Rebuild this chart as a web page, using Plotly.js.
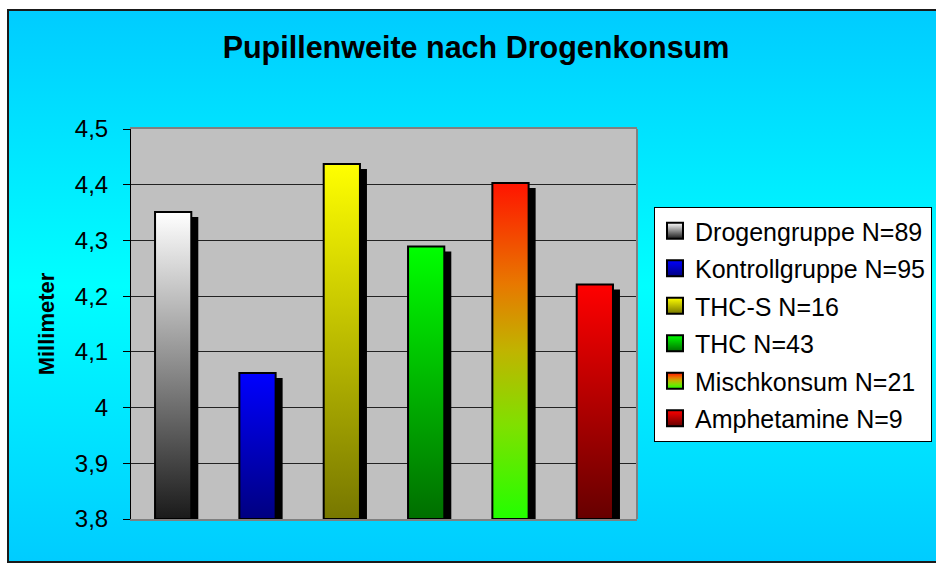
<!DOCTYPE html>
<html><head><meta charset="utf-8">
<script src="https://cdn.plot.ly/plotly-3.0.1.min.js"></script>
<style>
html,body{margin:0;padding:0;background:#fff;width:936px;height:563px;overflow:hidden;}
#bg{position:absolute;left:7px;top:9px;width:940px;height:550px;border:2px solid #1a1a1a;
 background:linear-gradient(to bottom,#00ccff 0%,#00ffff 50%,#00ccff 100%);}
#chart{position:absolute;left:0;top:0;width:936px;height:563px;}
</style></head>
<body>
<div id="bg"></div>
<div id="chart"></div>
<script>
// ---- data ----
const groups = ['Drogengruppe N=89','Kontrollgruppe N=95','THC-S N=16','THC N=43','Mischkonsum N=21','Amphetamine N=9'];
const pupilMM = [4.351, 4.062, 4.437, 4.289, 4.403, 4.221];
const yRange = [3.8, 4.5];
const yTickStep = 0.1;

// ---- styles ----
const gradStops = [
  [[0,'#ffffff'],[1,'#1a1a1a']],
  [[0,'#0000ff'],[1,'#000080']],
  [[0,'#ffff00'],[1,'#777700']],
  [[0,'#00ff00'],[1,'#006e00']],
  [[0,'#ff1400'],[0.3,'#e87800'],[0.5,'#c0b400'],[0.72,'#80e000'],[1,'#22ff00']],
  [[0,'#ff0000'],[1,'#660000']]
];
const baseColors = ['#888888','#0000c0','#c0c000','#00b000','#c0b400','#b00000'];

const traces = groups.map((g,i)=>({
  type:'bar', name:g, x:[g], y:[pupilMM[i] - yRange[0]], base:yRange[0], width:0.43,
  marker:{color:baseColors[i], line:{color:'#000', width:2}},
  legendgroup:'g'+i, hoverinfo:'skip'
}));

const font = 'Arial, "Liberation Sans", sans-serif';
const layout = {
  width:936, height:563,
  paper_bgcolor:'rgba(0,0,0,0)', plot_bgcolor:'#c0c0c0',
  margin:{l:131, r:299, t:129, b:44},
  font:{family:font, color:'#000'},
  separators:',.',
  title:{text:'Pupillenweite nach Drogenkonsum', font:{family:font, size:30.5, weight:'bold', color:'#000'},
         xref:'container', x:476/936, xanchor:'center', yref:'container', y:1-47/563, yanchor:'middle'},
  barmode:'overlay',
  xaxis:{showticklabels:false, ticks:'', showgrid:false, zeroline:false,
         showline:true, linecolor:'#808080', linewidth:2, mirror:true, fixedrange:true},
  yaxis:{range:yRange, tickmode:'linear', tick0:yRange[0], dtick:yTickStep,
         ticks:'outside', ticklen:7, tickcolor:'#000', tickwidth:1,
         showline:true, linecolor:'#000', linewidth:1,
         gridcolor:'#222222', gridwidth:1, zeroline:false,
         tickfont:{size:24, color:'#000'}, ticklabelstandoff:10,
         title:{text:'Millimeter', font:{size:22, weight:'bold', color:'#000'}, standoff:14}},
  shapes:[{type:'line', xref:'paper', yref:'paper', x0:1, x1:1, y0:0, y1:1, line:{color:'#808080', width:2}, layer:'above'}],
  legend:{xref:'container', x:654/936, xanchor:'left', yref:'container', y:1-207/563, yanchor:'top',
          bgcolor:'#ffffff', bordercolor:'#000000', borderwidth:1, font:{size:25, color:'#000'},
          tracegroupgap:2},
  showlegend:true
};

const gd = document.getElementById('chart');
Plotly.newPlot(gd, traces, layout, {staticPlot:true}).then(()=>{
  const NS = 'http://www.w3.org/2000/svg';
  const svg = gd.querySelector('svg.main-svg');
  let defs = svg.querySelector('defs');
  if(!defs){ defs = document.createElementNS(NS,'defs'); svg.insertBefore(defs, svg.firstChild); }
  gradStops.forEach((stops,i)=>{
    const lg = document.createElementNS(NS,'linearGradient');
    lg.setAttribute('id','barGrad'+i);
    lg.setAttribute('x1','0'); lg.setAttribute('y1','0'); lg.setAttribute('x2','0'); lg.setAttribute('y2','1');
    stops.forEach(s=>{
      const st = document.createElementNS(NS,'stop');
      st.setAttribute('offset', s[0]); st.setAttribute('stop-color', s[1]);
      lg.appendChild(st);
    });
    defs.appendChild(lg);
  });
  // bars: gradient fill + drop shadow
  gd.querySelectorAll('g.trace.bars').forEach((tr,i)=>{
    const d = tr.__data__;
    let idx = i;
    if(d && d[0] && d[0].trace) idx = d[0].trace.index;
    tr.querySelectorAll('path').forEach(p=>{
      const sh = p.cloneNode(true);
      sh.style.fill = '#000'; sh.style.stroke = 'none'; sh.style.strokeWidth = '0';
      sh.setAttribute('transform','translate(7,5)');
      p.parentNode.insertBefore(sh, p);
      p.style.fill = 'url(#barGrad'+idx+')';
      p.style.fillOpacity = '1';
    });
  });
  // legend swatches
  gd.querySelectorAll('.legend .traces').forEach(el=>{
    const d = el.__data__;
    const idx = d && d[0] && d[0].trace ? d[0].trace.index : 0;
    el.querySelectorAll('.legendpoints path').forEach(p=>{
      p.setAttribute('d','M8,8H-8V-8H8Z');
      p.style.fill = 'url(#barGrad'+idx+')';
      p.style.stroke = '#000'; p.style.strokeWidth = '2px';
    });
  });
});
</script>
</body></html>
